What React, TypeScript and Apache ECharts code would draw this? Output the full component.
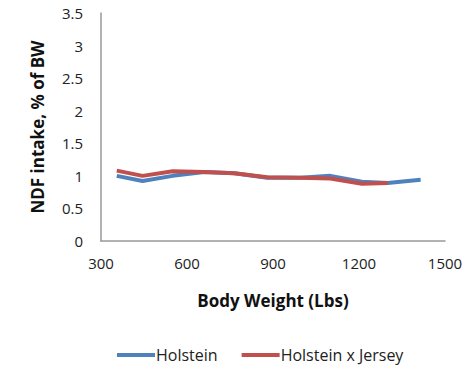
import React, { useEffect, useRef } from "react";
import * as echarts from "echarts";

const bodyWeight = [355, 445, 550, 660, 765, 880, 995, 1100, 1210, 1300, 1415];
const holstein = [1.0, 0.92, 1.0, 1.06, 1.04, 0.97, 0.97, 1.0, 0.91, 0.89, 0.94];
const holsteinJerseyWeight = [355, 445, 550, 660, 765, 880, 995, 1100, 1210, 1300];
const holsteinJersey = [1.08, 1.0, 1.07, 1.06, 1.04, 0.98, 0.97, 0.96, 0.88, 0.89];
const seriesNames = ["Holstein", "Holstein x Jersey"];

export default function App() {
  const ref = useRef<HTMLDivElement>(null);
  useEffect(() => {
    const chart = echarts.init(ref.current!, null, { renderer: "svg" });
    const font = "'Open Sans', 'Liberation Sans', sans-serif";
    chart.setOption({
      animation: false,
      textStyle: { fontFamily: font },
      legend: {
        bottom: 8,
        left: 112,
        itemWidth: 38,
        itemHeight: 4,
        itemGap: 24,
        icon: "rect",
        textStyle: { fontSize: 16, color: "#222", fontFamily: font, padding: [0, 0, 0, -4] },
        data: seriesNames,
      },
      grid: { left: 101, right: 22, top: 13, bottom: 135 },
      xAxis: {
        type: "value",
        min: 300,
        max: 1500,
        interval: 300,
        name: "Body Weight (Lbs)",
        nameLocation: "middle",
        nameGap: 51,
        nameTextStyle: { fontSize: 17, fontWeight: "bold", color: "#111", fontFamily: font },
        axisLine: { lineStyle: { color: "#999", width: 1.5 } },
        axisTick: { show: false },
        axisLabel: { fontSize: 15, color: "#222", margin: 14, fontFamily: font, formatter: (v: number) => String(v) },
        splitLine: { show: false },
      },
      yAxis: {
        type: "value",
        min: 0,
        max: 3.5,
        interval: 0.5,
        name: "NDF intake, % of BW",
        nameLocation: "middle",
        nameGap: 55,
        nameTextStyle: { fontSize: 17, fontWeight: "bold", color: "#111", fontFamily: font },
        axisLine: { show: true, lineStyle: { color: "#999", width: 1.5 } },
        axisTick: { show: false },
        axisLabel: { fontSize: 15, color: "#222", margin: 18, fontFamily: font },
        splitLine: { show: false },
      },
      series: [
        {
          name: seriesNames[0],
          type: "line",
          data: bodyWeight.map((x, i) => [x, holstein[i]]),
          showSymbol: false,
          symbol: "none",
          lineStyle: { color: "#4F81BD", width: 4 },
          itemStyle: { color: "#4F81BD" },
        },
        {
          name: seriesNames[1],
          type: "line",
          data: holsteinJerseyWeight.map((x, i) => [x, holsteinJersey[i]]),
          showSymbol: false,
          symbol: "none",
          lineStyle: { color: "#C0504D", width: 4 },
          itemStyle: { color: "#C0504D" },
        },
      ],
    });
    return () => chart.dispose();
  }, []);
  return (
    <div
      ref={ref}
      style={{ position: "absolute", left: 0, top: 0, width: 467, height: 376, background: "#fff" }}
    />
  );
}
